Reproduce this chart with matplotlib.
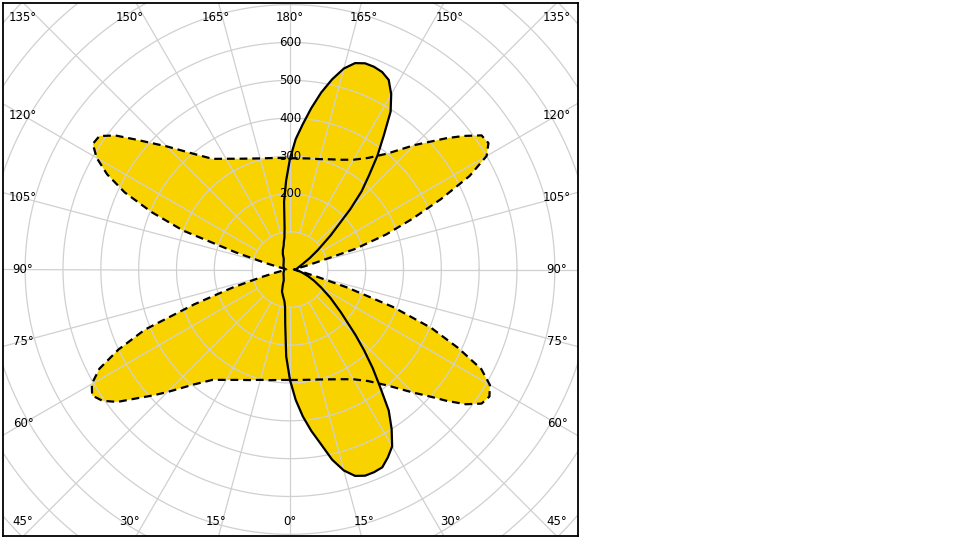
import numpy as np
import matplotlib
matplotlib.use("Agg")
import matplotlib.pyplot as plt

# ---------------- data (cd/klm, gamma in degrees) ----------------
gamma_c0 = [0, 2.5, 5, 7.5, 10, 12.5, 15, 17.5, 20, 22.5, 25, 27.5, 30, 32.5, 35, 37.5,
            40, 42.5, 45, 50, 55, 60, 65, 70, 75, 80, 85, 90, 95, 100, 110, 115, 120,
            125, 130, 135, 137.5, 140, 142.5, 145, 147.5, 150, 152.5, 155, 157.5, 160,
            162.5, 165, 167.5, 170, 172.5, 175, 177.5, 180]
val_c0 = [292, 345, 390, 430, 468, 515, 550, 572, 580, 580, 577, 560, 540, 500, 455, 391,
          340, 290, 245, 175, 130, 95, 70, 50, 35, 25, 18, 15, 17, 20, 30, 40, 60,
          90, 140, 225, 280, 325, 380, 432, 495, 535, 565, 576, 580, 580,
          572, 550, 515, 475, 430, 385, 345, 293]

gamma_c180 = [0, 2.5, 5, 7.5, 10, 15, 20, 25, 30, 40, 60, 80, 90, 100, 120, 140, 150,
              155, 160, 165, 167.5, 170, 172.5, 175, 177.5, 180]
val_c180 = [292, 230, 145, 100, 85, 72, 62, 45, 33, 26, 20, 16, 15, 16, 20, 26, 33,
            45, 55, 65, 75, 85, 110, 180, 235, 293]

gamma_c90 = [0, 5, 10, 15, 20, 25, 30, 35, 40, 45, 47.5, 50, 52.5, 55, 57.5, 60, 62.5,
             65, 67.5, 70, 72.5, 75, 77.5, 80, 85, 90, 95, 100, 102.5, 105, 107.5, 110,
             112.5, 115, 117.5, 120, 122.5, 125, 127.5, 130, 135, 140, 145, 150, 155,
             160, 165, 170, 175, 180]
val_c90 = [292, 293, 296, 301, 309, 320, 335, 360, 400, 460, 495, 540, 585, 618, 625, 610,
           570, 490, 405, 290, 160, 75, 40, 22, 14, 10, 14, 22, 40, 70, 180, 270,
           350, 440, 535, 600, 622, 618, 580, 540, 465, 400, 360, 335, 320,
           310, 302, 298, 295, 294]

gamma_c270 = [0, 5, 10, 15, 20, 25, 30, 35, 40, 42.5, 45, 47.5, 50, 52.5, 55, 57.5, 60,
              62.5, 65, 67.5, 70, 72.5, 75, 77.5, 80, 85, 90, 95, 100, 102.5, 105, 107.5,
              110, 112.5, 115, 117.5, 120, 122.5, 125, 127.5, 130, 135, 140, 145, 150,
              155, 160, 165, 170, 175, 180]
val_c270 = [292, 293, 297, 302, 311, 322, 337, 356, 397, 425, 458, 493, 530, 575, 605, 620, 605,
            568, 500, 415, 270, 160, 80, 42, 24, 14, 10, 12, 20, 35, 70, 150,
            300, 395, 482, 545, 590, 618, 615, 582, 535, 460, 400, 357, 338,
            323, 312, 304, 299, 296, 295]

ring_values = [100, 200, 300, 400, 500, 600, 700, 800, 900, 1000, 1100]
ring_labels = [200, 300, 400, 500, 600]
angle_ticks = [0, 15, 30, 45, 60, 75, 90, 105, 120, 135, 150, 165, 180]

# ---------------- geometry ----------------
W, H = 960, 540
S = 227.0 / 600.0          # pixels per cd/klm unit
cx_px, cy_px = 290.0, 269.5
box_l, box_r, box_t, box_b = 3.0, 578.0, 3.0, 536.0

fig = plt.figure(figsize=(W / 100, H / 100), dpi=100)
ax = fig.add_axes([box_l / W, (H - box_b) / H, (box_r - box_l) / W, (box_b - box_t) / H])
ax.set_xlim(-(cx_px - box_l) / S, (box_r - cx_px) / S)
ax.set_ylim(-(box_b - cy_px) / S, (cy_px - box_t) / S)
ax.set_xticks([])
ax.set_yticks([])
for sp in ax.spines.values():
    sp.set_color("black")
    sp.set_linewidth(1.3)
    sp.set_zorder(10)


def plane_xy(g_right, v_right, g_left, v_left):
    gr = np.radians(np.asarray(g_right, float))
    vr = np.asarray(v_right, float)
    gl = np.radians(np.asarray(g_left, float))[::-1]
    vl = np.asarray(v_left, float)[::-1]
    x = np.concatenate([vr * np.sin(gr), -vl * np.sin(gl)])
    y = np.concatenate([-vr * np.cos(gr), -vl * np.cos(gl)])
    return np.append(x, x[0]), np.append(y, y[0])


x_s, y_s = plane_xy(gamma_c0, val_c0, gamma_c180, val_c180)
x_d, y_d = plane_xy(gamma_c90, val_c90, gamma_c270, val_c270)

yellow = "#F9D300"
ax.fill(x_s, y_s, color=yellow, lw=0, zorder=1)
ax.fill(x_d, y_d, color=yellow, lw=0, zorder=1)

grid_c = "#d0d0d0"
t = np.linspace(0, 2 * np.pi, 721)
for rv in ring_values:
    ax.plot(rv * np.cos(t), rv * np.sin(t), color=grid_c, lw=0.9, zorder=2)
for a in range(0, 360, 15):
    ar = np.radians(a)
    ax.plot([100 * np.sin(ar), 2000 * np.sin(ar)], [-100 * np.cos(ar), -2000 * np.cos(ar)],
            color=grid_c, lw=0.9, zorder=2)

ax.plot(x_d, y_d, color="black", lw=1.6, ls=(0, (3.5, 2.2)), zorder=4)
ax.plot(x_s, y_s, color="black", lw=1.6, zorder=5)

for rv in ring_labels:
    ax.text(0, rv, str(rv), ha="center", va="center", fontsize=8.5, color="black", zorder=6)

# angle labels at box border
hw, hh = 267.0, 252.0
for side in (1, -1):
    for g in angle_ticks:
        if side == -1 and g in (0, 180):
            continue
        gr = np.radians(g)
        dx, dy = side * np.sin(gr), -np.cos(gr)
        tx = hw / abs(dx) if abs(dx) > 1e-9 else np.inf
        ty = hh / abs(dy) if abs(dy) > 1e-9 else np.inf
        if ty <= tx:
            px = np.clip(dx * ty * 1.1, -hw, hw)
            py = dy * ty
        else:
            px = dx * tx
            py = dy * tx
        ax.text(px / S, py / S, f"{g}°", ha="center", va="center", fontsize=8.5,
                color="black", zorder=6)

fig.savefig("out.png", dpi=100)
